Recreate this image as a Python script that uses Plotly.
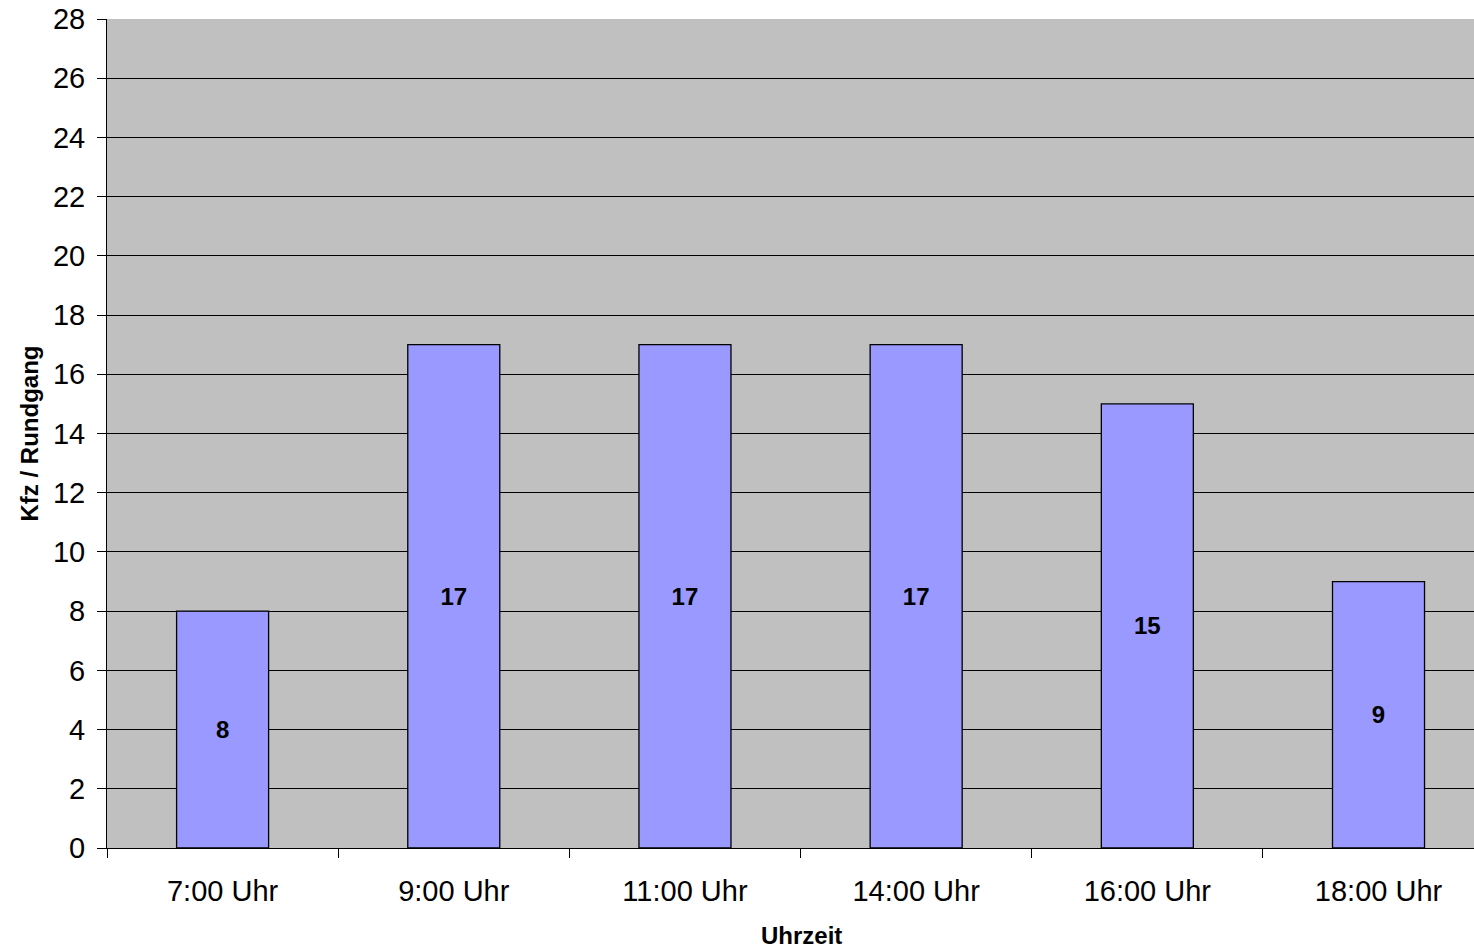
import plotly.graph_objects as go

# Kfz je Rundgang nach Uhrzeit
uhrzeiten = ["7:00 Uhr", "9:00 Uhr", "11:00 Uhr", "14:00 Uhr", "16:00 Uhr", "18:00 Uhr"]
kfz = [8, 17, 17, 17, 15, 9]
y_ticks = list(range(0, 29, 2))

font_family = "Liberation Sans, Arial, sans-serif"

fig = go.Figure(
    go.Bar(
        x=uhrzeiten,
        y=kfz,
        width=0.398,
        marker=dict(color="#9999FF", line=dict(color="#000000", width=1.3)),
        text=[str(v) for v in kfz],
        textposition="inside",
        insidetextanchor="middle",
        textangle=0,
        textfont=dict(family=font_family, size=24, color="#000000"),
        texttemplate="<b>%{text}</b>",
        hoverinfo="skip",
    )
)

fig.update_layout(
    width=1474,
    height=949,
    margin=dict(l=107, r=0, t=19, b=101),
    paper_bgcolor="#FFFFFF",
    plot_bgcolor="#C0C0C0",
    showlegend=False,
    font=dict(family=font_family, color="#000000"),
    xaxis=dict(
        type="category",
        range=[-0.5, 5.413],
        tickson="boundaries",
        ticks="outside",
        ticklen=9,
        tickcolor="#000000",
        tickwidth=1,
        ticklabelstandoff=17,
        showline=True,
        linecolor="#000000",
        linewidth=1,
        showgrid=False,
        tickfont=dict(size=29, family=font_family),
    ),
    yaxis=dict(
        range=[0, 28],
        tickvals=y_ticks,
        ticks="outside",
        ticklen=9,
        tickcolor="#000000",
        ticklabelstandoff=6,
        showline=True,
        linecolor="#000000",
        linewidth=1,
        showgrid=True,
        gridcolor="#000000",
        gridwidth=1,
        zeroline=False,
        tickfont=dict(size=29, family=font_family),
        title=dict(text="<b>Kfz / Rundgang</b>", font=dict(size=24, family=font_family), standoff=7),
    ),
    # x-axis title centred under the full category span
    annotations=[
        dict(
            text="<b>Uhrzeit</b>",
            xref="paper",
            yref="paper",
            x=0.5077,
            y=-0.105,
            xanchor="center",
            yanchor="middle",
            showarrow=False,
            font=dict(size=24, family=font_family, color="#000000"),
        )
    ],
)

fig.write_html("out.html")
